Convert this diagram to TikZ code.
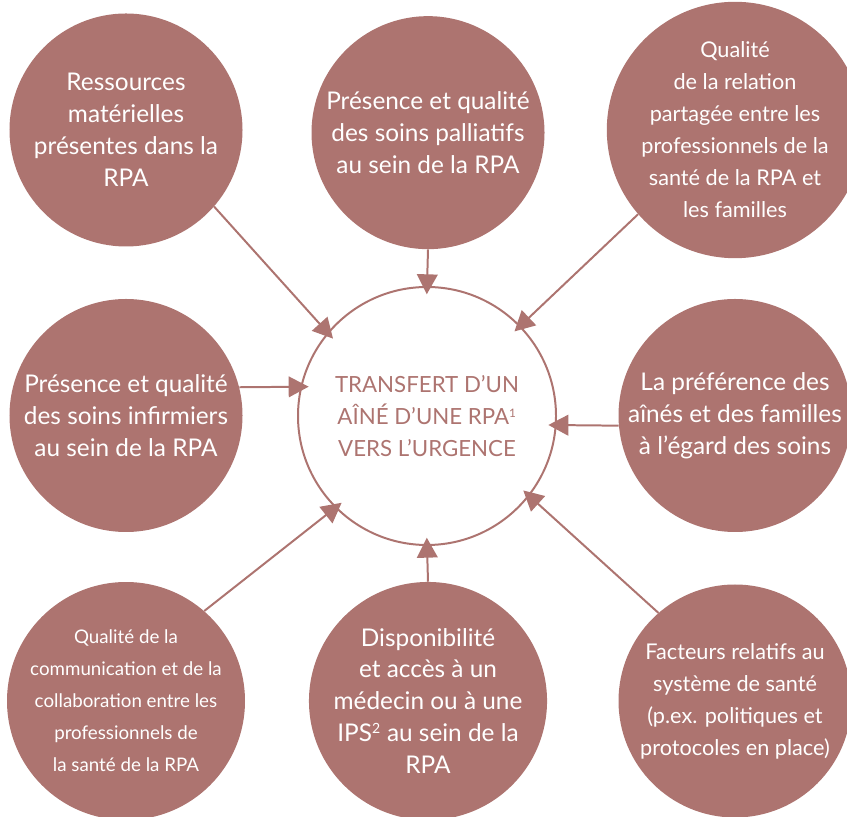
\documentclass[tikz,border=0pt]{standalone}
\usepackage{fontspec}
\setmainfont{Lato}
\usetikzlibrary{arrows.meta}
\definecolor{rpa}{RGB}{173,116,112}

\begin{document}
\begin{tikzpicture}[factor/.style={circle, fill=rpa, minimum size=6.99cm, inner sep=0pt, align=center, text=white, font=\fontsize{20.8}{27.3}\selectfont},
    hub/.style={circle, draw=rpa, line width=1.7pt, minimum size=7.74cm, inner sep=0pt, align=center, text=rpa, font=\fontsize{19}{27.5}\selectfont}]
    \useasboundingbox (0,0) rectangle (25.41,24.48);
    \node [hub] (c) at (12.81,12) {TRANSFERT D’UN\\AÎNÉ D’UNE RPA\textsuperscript{\fontsize{10}{10}\selectfont 1}\\VERS L’URGENCE};
    \begin{scope}[every node/.style={factor}]
      \node (tl) at (3.78,20.58) {Ressources\\matérielles\\présentes dans la\\RPA};
      \node (tm) at (12.84,20.5) {Présence et qualité\\des soins palliatifs\\au sein de la RPA};
      \node [font=\fontsize{18.5}{27.3}\selectfont] (tr) at (22.05,20.58) {Qualité\\de la relation\\partagée entre les\\professionnels de la\\santé de la RPA et\\les familles};
      \node (ml) at (3.78,12.015) {Présence et qualité\\des soins infirmiers\\au sein de la RPA};
      \node (mr) at (22.05,12.015) {La préférence des\\aînés et des familles\\à l’égard des soins};
      \node [font=\fontsize{16}{27.3}\selectfont] (bl) at (3.78,3.45) {Qualité de la\\communication et de la\\collaboration entre les\\professionnels de\\la santé de la RPA};
      \node (bm) at (12.84,3.45) {Disponibilité\\et accès à un\\médecin ou à une\\IPS\textsuperscript{\fontsize{12}{12}\selectfont 2} au sein de la\\RPA};
      \node [font=\fontsize{18.5}{27.3}\selectfont] (br) at (22.05,3.45) {Facteurs relatifs au\\système de santé\\(p.ex. politiques et\\protocoles en place)};
    \end{scope}
    \begin{scope}[->, >={Triangle[length=6mm,width=6.2mm]}, draw=rpa, line width=1.7pt, shorten >=-0.25cm]
      \draw (tl.-41) to (c.140);
      \draw (tm.-90) to (c.90);
      \draw (tr.-139) to (c.44);
      \draw (ml.14) to (c.167.5);
      \draw (mr.185) to (c.-4);
      \draw (bl.49) to (c.225);
      \draw (bm.90) to (c.-90);
      \draw (br.131.5) to (c.-38);
    \end{scope}
\end{tikzpicture}
\end{document}
